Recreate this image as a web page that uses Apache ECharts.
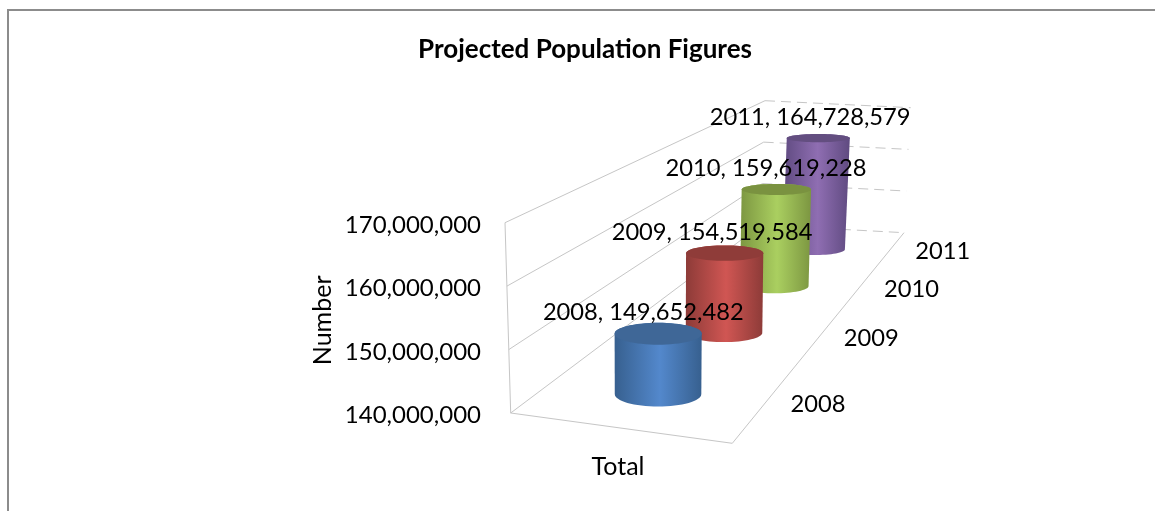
<!DOCTYPE html>
<html><head><meta charset="utf-8">
<style>html,body{margin:0;padding:0;background:#fff}#c{width:1155px;height:511px}</style>
<script src="https://cdn.jsdelivr.net/npm/echarts@6/dist/echarts.min.js"></script>
</head><body><div id="c"></div>
<script>
const categories = ['2008', '2009', '2010', '2011'];
const population = [149652482, 154519584, 159619228, 164728579];
const axisTicks = [140000000, 150000000, 160000000, 170000000];

const FONT = 'Lato, "Open Sans", sans-serif';
const FS = 23.7;
const GRID = {left: 510, top: 225.2, width: 216, height: 190.3};
// Perspective box: corners [front-left, front-right, back-right, back-left]
const FLOOR = [[510.7,413],[732.3,443.3],[904,232.7],[761,225]];
const CEIL  = [[505,222.7],[733,238],[910.7,107.7],[765,100.7]];
const RADIUS = 0.207, DEPTH_R = 0.044, LIFT = 5;
const PALETTE = [
  {top:'#3f6797', edge:'#37608f', mid:'#5388cc'},
  {top:'#8f3c39', edge:'#8d3b38', mid:'#d05653'},
  {top:'#7a9240', edge:'#7c9641', mid:'#aacf60'},
  {top:'#634e80', edge:'#5f4a80', mid:'#8f6eb2'}
];
const GRIDLINE = '#c6c6c6';

function quad(q){
  const [[x0,y0],[x1,y1],[x2,y2],[x3,y3]] = q;
  const dx1=x1-x2, dx2=x3-x2, sx=x0-x1+x2-x3, dy1=y1-y2, dy2=y3-y2, sy=y0-y1+y2-y3;
  const den=dx1*dy2-dx2*dy1;
  const g=(sx*dy2-dx2*sy)/den, h=(dx1*sy-sx*dy1)/den;
  const a=x1-x0+g*x1, b=x3-x0+h*x3, d=y1-y0+g*y1, e=y3-y0+h*y3;
  return (u,v)=>{const w=g*u+h*v+1;return [(a*u+b*v+x0)/w,(d*u+e*v+y0)/w];};
}
const floorMap = quad(FLOOR), ceilMap = quad(CEIL);
function P(u,v,h){
  const f=floorMap(u,v), c=ceilMap(u,v);
  return [f[0]+(c[0]-f[0])*h, f[1]+(c[1]-f[1])*h];
}
function ellipse(v,h){
  const c=P(.5,v,h), l=P(0,v,h), r=P(1,v,h);
  c[1]+=LIFT*(1-h);
  const rx=RADIUS*Math.hypot(r[0]-l[0],r[1]-l[1]);
  const ry=Math.abs(P(.5,v+DEPTH_R,h)[1]-P(.5,v-DEPTH_R,h)[1])/2;
  return {c,rx,ry};
}
function arc(e,from,to,n){
  const pts=[];
  for(let i=0;i<=n;i++){const t=from+(to-from)*i/n;pts.push([e.c[0]+e.rx*Math.cos(t),e.c[1]+e.ry*Math.sin(t)]);}
  return pts;
}
function axisFrac(api,val){
  const y0=api.coord([0,axisTicks[0]])[1], y1=api.coord([0,axisTicks[axisTicks.length-1]])[1];
  return (y0-api.coord([0,val])[1])/(y0-y1);
}
function ln(a,b,dashed){
  return {type:'line',shape:{x1:a[0],y1:a[1],x2:b[0],y2:b[1]},
    style:{stroke:GRIDLINE,lineWidth:1,lineDash:dashed?[10,6]:null,fill:null},silent:true};
}
function renderWalls(params,api){
  const h=axisFrac(api,api.value(1));
  const ch=[ln(P(0,0,h),P(0,1,h)),ln(P(0,1,h),P(1,1,h),true)];
  if(params.dataIndex===0){
    ch.push(ln(P(0,0,0),P(0,0,1)),ln(P(0,0,0),P(1,0,0)),ln(P(1,0,0),P(1,1,0)));
  }
  return {type:'group',children:ch};
}
function renderCylinder(params,api){
  const i=params.dataIndex, col=PALETTE[i];
  const gx=api.coord([api.value(0),api.value(1)])[0];
  const v=(gx-GRID.left)/GRID.width, h=axisFrac(api,api.value(1));
  const base=ellipse(v,0), top=ellipse(v,h);
  const z=10+(categories.length-i)*2;
  const lower=arc(base,Math.PI,0,32);
  const upper=arc(top,0,-Math.PI,32);
  const edge=P(1,v,0);
  return {type:'group',children:[
    {type:'polygon',z2:z,shape:{points:lower.concat(upper)},silent:true,
      style:{fill:new echarts.graphic.LinearGradient(0,0,1,0,[
        {offset:0,color:col.edge},{offset:.52,color:col.mid},{offset:1,color:col.edge}])}},
    {type:'polygon',z2:z+1,shape:{points:arc(top,0,Math.PI*2,64)},silent:true,style:{fill:col.top}},
    {type:'text',z2:100,silent:true,x:top.c[0]-16+9*v,y:top.c[1]-21,
      style:{text:categories[i]+', '+population[i].toLocaleString('en-US'),fill:'#000',
        fontFamily:FONT,fontSize:FS,textAlign:'center',textVerticalAlign:'middle'}},
    {type:'text',z2:100,silent:true,x:edge[0]+52,y:edge[1]+2,
      style:{text:categories[i],fill:'#000',fontFamily:FONT,fontSize:FS,textAlign:'center',textVerticalAlign:'middle'}}
  ]};
}

const chart=echarts.init(document.getElementById('c'),null,{renderer:'canvas'});
chart.setOption({
  animation:false,
  backgroundColor:'#fff',
  title:{text:'Projected Population Figures',left:580,top:45,textAlign:'center',textVerticalAlign:'middle',
    textStyle:{fontFamily:FONT,fontSize:26,fontWeight:'bold',color:'#000'}},
  grid:{left:GRID.left,top:GRID.top,width:GRID.width,height:GRID.height},
  xAxis:{type:'category',data:categories,axisLine:{show:false},axisTick:{show:false},axisLabel:{show:false},
    name:'Total',nameLocation:'middle',nameGap:38.5,nameTextStyle:{fontFamily:FONT,fontSize:25,color:'#000'}},
  yAxis:{type:'value',min:axisTicks[0],max:axisTicks[axisTicks.length-1],interval:10000000,
    splitLine:{show:false},axisLine:{show:false},axisTick:{show:false},
    axisLabel:{margin:29,fontFamily:FONT,fontSize:24,color:'#000',formatter:v=>v.toLocaleString('en-US')},
    name:'Number',nameLocation:'middle',nameGap:175,nameTextStyle:{fontFamily:FONT,fontSize:25,color:'#000'}},
  graphic:[{type:'polyline',silent:true,shape:{points:[[8,511],[8,10],[1155,10]]},style:{stroke:'#8c8c8c',lineWidth:2,fill:null}}],
  series:[
    {type:'custom',name:'walls',silent:true,clip:false,z:1,renderItem:renderWalls,
      encode:{x:0,y:1},data:axisTicks.map(t=>[0,t])},
    {type:'custom',name:'Total',silent:true,clip:false,z:2,renderItem:renderCylinder,
      encode:{x:0,y:1},data:population.map((p,i)=>[i,p])}
  ]
});
</script></body></html>
